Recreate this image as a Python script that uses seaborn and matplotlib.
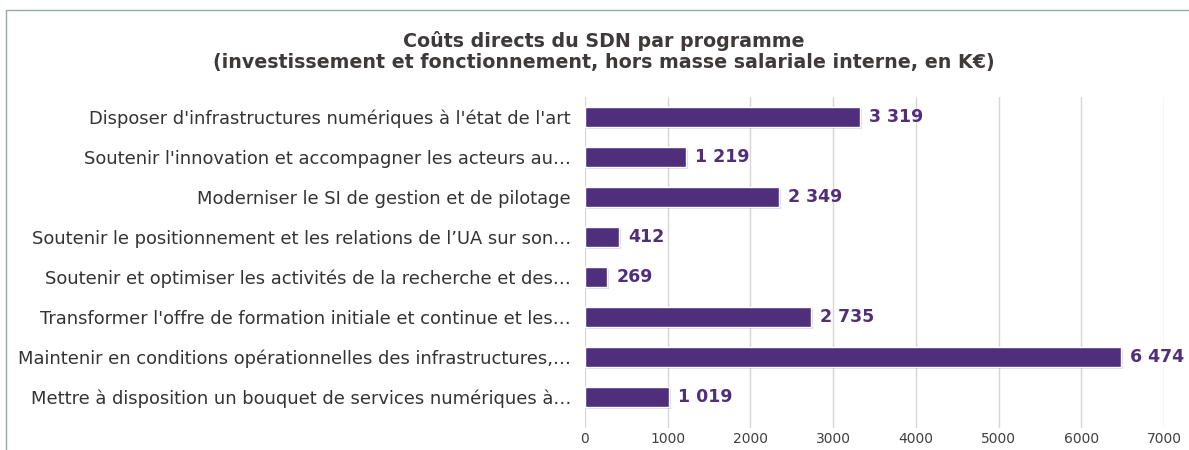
import pandas as pd
import matplotlib.pyplot as plt
import matplotlib.patheffects as pe
from matplotlib.patches import Rectangle
import seaborn as sns

programmes = [
    "Disposer d'infrastructures numériques à l'état de l'art",
    "Soutenir l'innovation et accompagner les acteurs au…",
    "Moderniser le SI de gestion et de pilotage",
    "Soutenir le positionnement et les relations de l’UA sur son…",
    "Soutenir et optimiser les activités de la recherche et des…",
    "Transformer l'offre de formation initiale et continue et les…",
    "Maintenir en conditions opérationnelles des infrastructures,…",
    "Mettre à disposition un bouquet de services numériques à…",
]
couts = [3319, 1219, 2349, 412, 269, 2735, 6474, 1019]
x_ticks = [0, 1000, 2000, 3000, 4000, 5000, 6000, 7000]

df = pd.DataFrame({'programme': programmes, 'cout': couts})

purple = '#4f2f7b'
text_color = '#404040'

sns.set_style('white')
plt.rcParams['font.family'] = ['DejaVu Sans']

fig = plt.figure(figsize=(11.89, 4.5), dpi=100)
ax = fig.add_axes([0.492, 0.05, 0.487, 0.735])

sns.barplot(data=df, x='cout', y='programme', color=purple, saturation=1,
            width=0.5, ax=ax, orient='h')

for bar in ax.patches:
    bar.set_path_effects([pe.SimplePatchShadow(offset=(1.5, -1.5), alpha=0.15), pe.Normal()])

for i, v in enumerate(couts):
    ax.text(v + 110, i, f"{v:,}".replace(',', ' '), va='center', ha='left',
            color=purple, fontsize=12.5, fontweight='bold')

ax.set_xlim(0, 7000)
ax.set_ylim(7.775, -0.5)
ax.set_xticks(x_ticks)
ax.set_xticklabels([str(t) for t in x_ticks], color=text_color, fontsize=10)
ax.tick_params(axis='y', labelsize=12.9, colors='#333333', length=0, pad=10)
ax.tick_params(axis='x', length=0, pad=3)
ax.set_xlabel('')
ax.set_ylabel('')
ax.grid(axis='x', color='#d9d4d9', linewidth=1)
ax.set_axisbelow(True)
for s in ax.spines.values():
    s.set_visible(False)

fig.text(0.508, 0.886, "Coûts directs du SDN par programme\n(investissement et fonctionnement, hors masse salariale interne, en K€)",
         ha='center', va='center', fontsize=13.7, fontweight='bold', color='#3f3a3a', linespacing=1.15)

fig.patches.append(Rectangle((6 / 1189, -0.1), 1.2, 1 - 10 / 450 + 0.1, transform=fig.transFigure,
                             fill=False, edgecolor='#93aaa8', linewidth=1))

fig.savefig('out.png', dpi=100)
